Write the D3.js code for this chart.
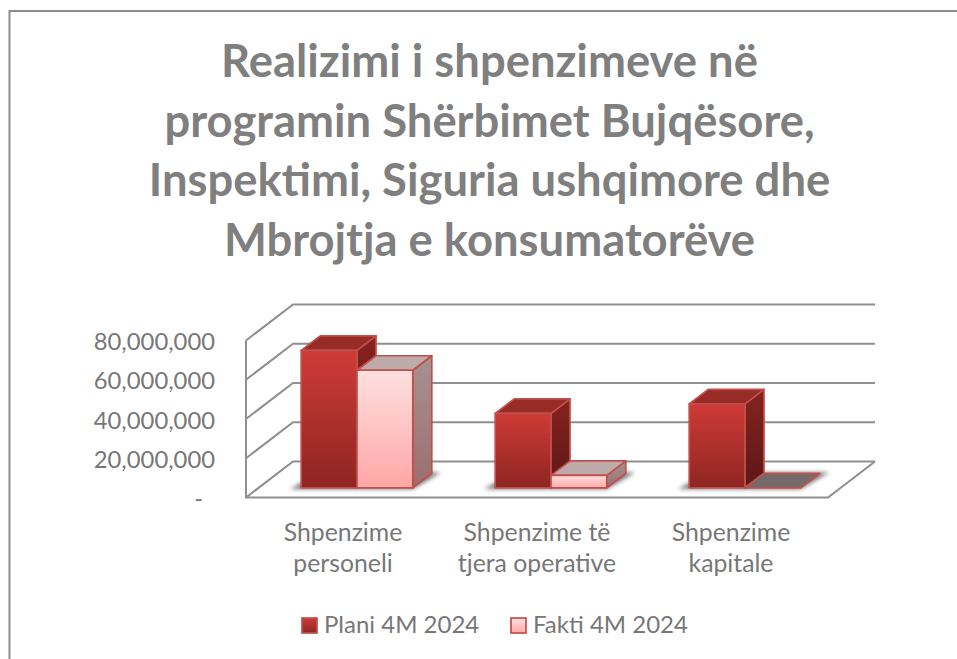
<!DOCTYPE html>
<html><head><meta charset="utf-8">
<script src="https://cdnjs.cloudflare.com/ajax/libs/d3/7.8.5/d3.min.js"></script>
<style>html,body{margin:0;background:#fff}svg{display:block}text{font-family:Lato,"Open Sans",sans-serif}</style>
</head><body><svg id="c" width="957" height="659"></svg>
<script>
const categories = [["Shpenzime","personeli"],["Shpenzime të","tjera operative"],["Shpenzime","kapitale"]];
const seriesNames = ["Plani 4M 2024","Fakti 4M 2024"];
const plani = [70000000,37900000,42800000];
const fakti = [59900000,6300000,0];
const ticks = [0,20000000,40000000,60000000,80000000];
const tickLabels = ["-","20,000,000","40,000,000","60,000,000","80,000,000"];
const titleLines = ["Realizimi i shpenzimeve në","programin Shërbimet Bujqësore,","Inspektimi, Siguria ushqimore dhe","Mbrojtja e konsumatorëve"];

const svg = d3.select("#c"), defs = svg.append("defs");
function grad(id,a,b){const g=defs.append("linearGradient").attr("id",id).attr("x1",0).attr("y1",0).attr("x2",0).attr("y2",1);
  g.append("stop").attr("offset",0).attr("stop-color",a);g.append("stop").attr("offset",1).attr("stop-color",b);}
grad("pF","#cf3b37","#8e2522");grad("pS","#86231f","#5b1815");
grad("fF","#ffe0e0","#ffa6a6");grad("fS","#a79292","#9c6e6e");
defs.append("filter").attr("id","blur").attr("x","-30%").attr("y","-100%").attr("width","160%").attr("height","300%")
  .append("feGaussianBlur").attr("stdDeviation",2.2);

svg.append("path").attr("d","M9.5,659V11H957").attr("fill","none").attr("stroke","#8c8c8c").attr("stroke-width",2);

const title=svg.append("g").attr("font-weight",700).attr("font-size",45.4).attr("fill","#7f7f7f").attr("text-anchor","middle");
titleLines.forEach((t,i)=>title.append("text").attr("x",489.5).attr("y",77+i*59.5).text(t));

const dx=47, dy=-36;
const frontLeft=246, frontRight=828, floorY=497.5;
const yAxis=d3.scaleLinear().domain([0,80000000]).range([floorY,340.5]);
const grid=svg.append("g").attr("fill","none").attr("stroke","#8f8f8f").attr("stroke-width",2);
ticks.forEach(t=>{const y=yAxis(t);
  grid.append("path").attr("d",`M${frontLeft},${y}L${frontLeft+dx},${y+dy}H${frontRight+dx}`);});
grid.append("path").attr("d",`M${frontLeft},${yAxis(80000000)}V${floorY}H${frontRight}L${frontRight+dx},${floorY+dy}`);

const labels=svg.append("g").attr("font-size",23.8).attr("fill","#777").attr("text-anchor","end");
ticks.forEach((t,i)=>labels.append("text").attr("x",t===0?203:215).attr("y",yAxis(t)+9.5).text(tickLabels[i]));

const band=d3.scaleBand().domain(d3.range(3)).range([260,842]);
const yBar=d3.scaleLinear().domain([0,80000000]).range([487.8,330.8]);
const barW=55.8, ox=19, oy=-14.5;
const center=i=>band(i)+band.bandwidth()/2;
const shadows=svg.append("g").attr("filter","url(#blur)").attr("fill","#5a5a5a").attr("opacity",.85);
d3.range(3).forEach(i=>{const x=center(i)-barW;
  shadows.append("path").attr("d",`M${x-11},489H${x+barW*2}L${x+barW*2+ox+9},472.5H${x+ox}Z`);
});
const bars=svg.append("g").attr("stroke","#c0504d").attr("stroke-width",1.7).attr("stroke-linejoin","round");
function box(x,v,front,side,top){const y0=yBar(0),y1=yBar(v),w=barW;
  if(v===0){bars.append("path").attr("d",`M${x},${y0}h${w}l${ox},${oy}h${-w}Z`).attr("fill","#756a6a");return;}
  bars.append("path").attr("d",`M${x+w},${y0}l${ox},${oy}V${y1+oy}l${-ox},${-oy}Z`).attr("fill",`url(#${side})`);
  bars.append("path").attr("d",`M${x},${y1}l${ox},${oy}h${w}l${-ox},${-oy}Z`).attr("fill",top);
  bars.append("rect").attr("x",x).attr("y",y1).attr("width",w).attr("height",y0-y1).attr("fill",`url(#${front})`);
}
d3.range(3).forEach(i=>{const x=center(i)-barW;
  box(x,plani[i],"pF","pS","#992b27");
  box(x+barW,fakti[i],"fF","fS","#bfaaaa");
});

const cat=svg.append("g").attr("font-size",24.8).attr("fill","#777").attr("text-anchor","middle");
categories.forEach((c,i)=>c.forEach((t,j)=>cat.append("text").attr("x",[343,537,731][i]).attr("y",540.5+j*31.5).text(t)));

const leg=svg.append("g").attr("font-size",24).attr("fill","#777");
[[302,"pF"],[511,"fF"]].forEach(([x,g],i)=>{
  leg.append("rect").attr("x",x).attr("y",618).attr("width",15).attr("height",15).attr("fill",`url(#${g})`).attr("stroke","#c0504d").attr("stroke-width",1.7);
  leg.append("text").attr("x",x+22).attr("y",633).text(seriesNames[i]);
});
</script></body></html>
